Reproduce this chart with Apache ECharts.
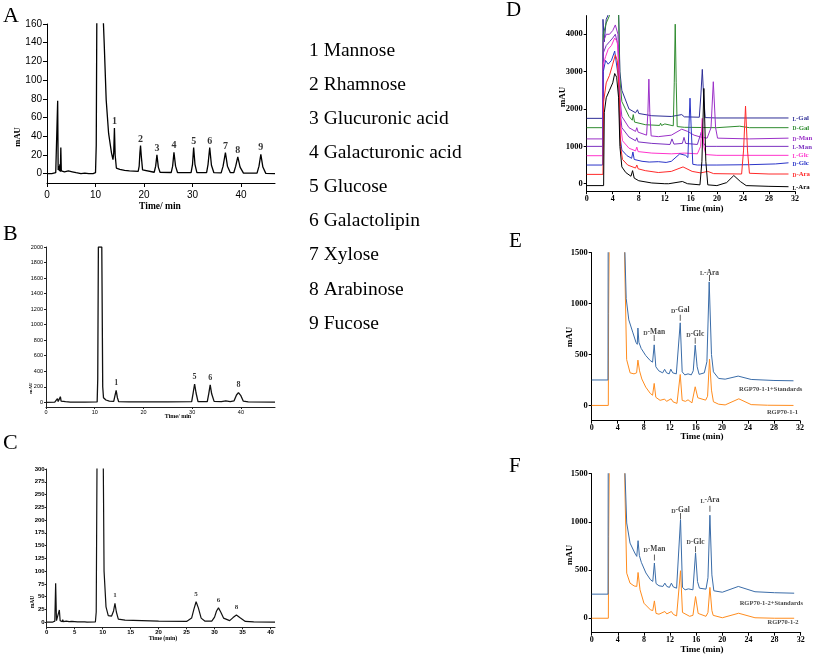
<!DOCTYPE html>
<html><head><meta charset="utf-8">
<script src="https://cdn.jsdelivr.net/npm/echarts@6/dist/echarts.min.js"></script>
<style>html,body{margin:0;padding:0;background:#fff}#c{width:813px;height:656px}</style>
</head><body><div id="c"></div><script>
// ---------- DATA ----------
const aXTicks = [0,10,20,30,40];
const aYTicks = [0,20,40,60,80,100,120,140,160];
const bXTicks = [0,10,20,30,40];
const bYTicks = [0,200,400,600,800,1000,1200,1400,1600,1800,2000];
const cXTicks = [0,5,10,15,20,25,30,35,40];
const cYTicks = [0,25,50,75,100,125,150,175,200,225,250,275,300];
const dXTicks = [0,4,8,12,16,20,24,28,32];
const dYTicks = [0,1000,2000,3000,4000];
const efXTicks = [0,4,8,12,16,20,24,28,32];
const efYTicks = [0,500,1000,1500];

const monoNames = ['1 Mannose','2 Rhamnose','3 Glucuronic acid','4 Galacturonic acid','5 Glucose','6 Galactolipin','7 Xylose','8 Arabinose','9 Fucose'];

const aTrace = [[0,0],[1.0,0],[1.8,1],[2.1,3],[2.2,78],[2.3,4],[2.45,8],[2.55,3],[2.65,10],[2.75,2],[2.85,28],[2.95,3],[3.2,1],[3.6,2],[4.0,1],[4.4,3],[4.8,1],[5.2,2],[5.6,3],[6.0,1],[7.0,0],[7.8,0.5],[8.2,2],[8.6,0],[9.5,0],[10.0,1],[10.15,30],[10.3,200],[11.5,220],[11.6,165],[11.8,138],[12.2,79],[12.7,43],[13.3,22],[13.6,15],[13.75,22],[13.9,48.7],[14.05,20],[14.3,6],[15,4.5],[16,3.5],[17,3],[18.8,2.5],[19.0,8],[19.15,22],[19.28,30],[19.45,18],[19.7,4],[20,2],[22.1,1.5],[22.4,8],[22.66,20],[22.95,7],[23.3,1.5],[25.6,1.2],[25.9,8],[26.17,22.7],[26.5,8],[26.9,1.2],[29.7,1],[30.0,10],[30.23,28],[30.5,10],[30.9,1],[32.9,1],[33.2,10],[33.54,28],[33.9,9],[34.4,1],[35.9,0.8],[36.3,8],[36.78,22.4],[37.2,8],[37.8,1],[38.5,1],[38.9,8],[39.33,18],[39.8,7],[40.5,0.5],[43.3,0.5],[43.7,8],[44.08,20.6],[44.5,7],[45.1,0.3],[47,0]];
const aLabels = [[13.9,48.7,'1'],[19.28,30,'2'],[22.66,20,'3'],[26.17,22.7,'4'],[30.23,28,'5'],[33.54,28,'6'],[36.78,22.4,'7'],[39.33,18,'8'],[44.08,20.6,'9']];

const bTrace = [[0,0],[1.8,2],[2.2,10],[2.35,47],[2.5,10],[2.75,20],[2.95,73],[3.1,15],[3.5,5],[4,8],[5,3],[8,2],[10.5,5],[10.62,300],[10.75,2000],[11.45,2000],[11.64,200],[11.8,60],[12.3,30],[13,15],[13.9,12],[14.1,70],[14.4,155],[14.65,60],[14.9,10],[17,6],[25,5],[29.9,8],[30.2,120],[30.5,236],[30.8,120],[31.2,10],[33.1,8],[33.4,110],[33.7,224],[34.0,110],[34.5,12],[36,10],[36.9,18],[37.8,10],[38.6,20],[39.1,95],[39.5,125],[39.95,90],[40.5,15],[41.5,5],[47,3]];
const bLabels = [[14.4,155,'1'],[30.5,236,'5'],[33.7,224,'6'],[39.5,125,'8']];

const cTrace = [[0,0],[1.0,0],[1.45,2],[1.6,76],[1.75,3],[2.1,3],[2.26,24],[2.4,3],[2.8,1],[2.86,5],[3.0,1],[3.5,2],[4,1],[4.5,1.5],[5.5,0.5],[6.8,0.5],[7.0,2],[7.2,0],[8.7,0.5],[8.85,20],[9.0,330],[10.1,330],[10.25,100],[10.6,30],[11.0,13],[11.6,12],[11.95,22],[12.2,37],[12.45,20],[12.8,6],[14,4],[17,3],[20,2],[25,1.5],[25.9,8],[26.3,25],[26.7,40],[27.1,28],[27.6,8],[28.3,2],[29.5,2],[30.0,10],[30.35,22],[30.7,28],[31.1,20],[31.6,8],[32.7,3],[33.3,9],[33.9,14],[34.5,9],[35.5,1.5],[37,0.5],[40.8,0]];
const cLabels = [[12.2,37,'1'],[26.7,40,'5'],[30.7,28,'6'],[33.9,14,'8']];

const dNames = ['L-Gal','D-Gal','D-Man','L-Man','L-Glc','D-Glc','D-Ara','L-Ara'];
const dLGal = [[0,1750],[2.45,1750],[2.5,4400],[2.7,3800],[3,4400],[3.5,4600],[4.5,4800],[4.9,4600],[5.1,3000],[5.4,2500],[6.5,2000],[7.5,1900],[7.8,1980],[8.0,1880],[10,1820],[13,1800],[14.6,1850],[15,1790],[17.3,1780],[17.55,2400],[17.76,3060],[17.95,2400],[18.2,1770],[20,1760],[31,1760]];
const dDGal = [[0,1500],[2.45,1500],[2.55,4000],[3,4300],[3.5,4500],[4.0,4800],[4.5,5000],[4.9,4600],[5.1,2800],[5.4,2200],[6.5,1800],[7.0,1700],[7.15,1850],[7.35,1650],[9,1580],[11.2,1560],[11.35,1620],[11.5,1560],[12,1600],[12.3,1560],[13.3,1550],[13.45,2700],[13.6,4270],[13.75,2700],[13.9,1530],[15,1510],[20,1500],[23.5,1540],[25,1500],[31,1500]];
const dDMan = [[0,1200],[2.45,1200],[2.55,3800],[3,4000],[3.5,4000],[4.0,4100],[4.4,4250],[4.8,4000],[5.1,2300],[5.4,1800],[6.5,1500],[7.5,1400],[7.7,1500],[7.9,1380],[9.2,1300],[9.4,1900],[9.55,2800],[9.7,1900],[9.9,1280],[11,1260],[13,1300],[14.6,1460],[15.5,1400],[16.5,1300],[17.5,1250],[18.5,1220],[19.1,1500],[19.45,2730],[19.8,1500],[20.1,1220],[25,1200],[31,1220]];
const dLMan = [[0,1000],[2.45,1000],[2.55,3500],[3.0,3700],[3.5,3800],[4.0,3900],[4.4,4000],[4.8,3700],[5.1,2000],[5.4,1500],[6.5,1250],[7.5,1150],[7.7,1230],[7.9,1120],[10,1080],[12.8,1050],[13.1,1200],[13.4,1060],[14.7,1080],[14.95,1240],[15.2,1080],[17.0,1050],[17.6,1380],[17.9,1100],[18.3,1000],[20,1000],[31,1000]];
const dLGlc = [[0,750],[2.45,750],[2.55,3200],[2.9,3400],[3.3,3600],[3.8,3700],[4.3,3900],[4.7,3800],[5.0,3000],[5.2,1600],[5.5,1150],[6.5,950],[7.5,880],[7.7,980],[7.9,860],[10,820],[13,800],[15,820],[17,800],[17.5,1000],[17.75,1750],[18.0,1000],[18.3,780],[20,760],[31,760]];
const dDGlc = [[0,500],[2.45,500],[2.55,3000],[2.9,3300],[3.3,3200],[3.8,3300],[4.3,3550],[4.6,3500],[4.9,2800],[5.1,1300],[5.4,900],[6.2,750],[6.9,680],[7.1,850],[7.3,650],[8.5,600],[9.6,580],[11,590],[12.2,570],[13,600],[14.3,800],[15.2,760],[15.55,700],[15.7,1500],[15.87,2290],[16.05,1500],[16.3,520],[17,500],[20,500],[25,510],[29,530],[31,560]];
const dDAra = [[0,250],[2.5,250],[2.6,2200],[3.0,2700],[3.5,2900],[4.0,3200],[4.4,3450],[4.7,3300],[5.0,2400],[5.2,1000],[5.5,650],[6.3,500],[7.5,420],[7.7,500],[7.9,400],[9,350],[11,300],[13,330],[14.8,450],[16.2,330],[17.5,290],[18.6,330],[19.5,270],[23.8,260],[24.1,900],[24.4,2080],[24.7,900],[25,280],[28,260],[31,260]];
const dLAra = [[0,-50],[2.6,-50],[2.7,1900],[3.0,2300],[3.5,2500],[4.0,2700],[4.3,2950],[4.6,2850],[4.9,2300],[5.1,1000],[5.4,450],[6,300],[6.8,200],[7.05,350],[7.3,150],[8,80],[10,20],[12,0],[12.3,30],[12.6,0],[14.7,60],[15.5,0],[17.4,-30],[17.7,600],[18.0,2550],[18.3,600],[18.6,-30],[20,-50],[21.5,30],[22.6,220],[23.6,60],[24.5,-50],[28,-70],[31,-80]];

const eStd = [[0,250],[2.5,250],[2.55,2500],[3,3000],[4.5,3000],[5.0,2000],[5.1,1500],[5.3,1050],[5.7,840],[6.3,720],[6.8,620],[7.0,600],[7.1,760],[7.25,620],[7.6,560],[8.3,490],[9.0,440],[9.35,425],[9.6,595],[9.85,380],[10.3,340],[10.9,320],[11.2,355],[11.5,320],[11.9,310],[12.15,356],[12.45,320],[13,310],[13.3,305],[13.6,811],[13.9,330],[14.3,300],[14.8,310],[15.3,300],[15.6,340],[15.9,592],[16.2,380],[16.5,305],[17.3,320],[17.7,430],[18.05,1213],[18.4,500],[18.7,330],[19.5,265],[20.5,258],[22.5,288],[24.5,255],[28,245],[31,242]];
const eSmp = [[0,0],[2.55,0],[2.6,900],[2.8,2500],[4.5,2500],[5.0,1800],[5.1,1300],[5.37,450],[5.9,320],[6.5,310],[6.9,320],[7.1,445],[7.35,340],[7.7,260],[8.3,180],[9.0,118],[9.35,100],[9.6,216],[9.85,80],[10.5,50],[11.2,62],[11.5,40],[12.2,65],[12.5,35],[13.1,20],[13.6,304],[13.9,50],[14.4,40],[14.8,55],[15.4,25],[15.9,183],[16.3,75],[16.5,62],[17.5,52],[17.8,90],[18.1,455],[18.4,150],[18.7,36],[19.5,12],[20.5,5],[22.6,65],[24.5,8],[27,2],[31,0]];
const fStd = [[0,250],[2.5,250],[2.55,2500],[3,3000],[4.5,3000],[5.0,2000],[5.1,1500],[5.36,989],[5.87,780],[6.6,677],[6.9,642],[7.1,805],[7.3,650],[7.6,580],[8.3,470],[9.0,400],[9.35,382],[9.6,573],[9.85,360],[10.3,337],[10.9,330],[11.2,364],[11.5,330],[11.9,320],[12.2,364],[12.5,325],[13,312],[13.3,320],[13.6,1024],[13.9,320],[14.3,295],[14.8,305],[15.5,295],[15.9,677],[16.2,380],[16.5,312],[17.5,302],[17.8,420],[18.1,1069],[18.4,450],[18.7,285],[20,270],[22.45,330],[25,275],[28,265],[31,260]];
const fSmp = [[0,0],[2.55,0],[2.6,850],[2.8,2500],[4.5,2500],[5.0,1800],[5.1,1300],[5.36,468],[5.87,364],[6.5,335],[6.9,330],[7.1,475],[7.4,295],[8.0,156],[9.0,87],[9.35,80],[9.6,180],[9.85,50],[10.3,42],[11.2,70],[11.5,45],[12.2,70],[12.5,40],[13,24],[13.3,30],[13.6,493],[13.9,60],[14.2,40],[15,20],[15.5,30],[15.9,225],[16.3,50],[17.5,20],[17.8,60],[18.1,320],[18.4,80],[18.6,30],[20,5],[22.5,52],[25,5],[28,0],[31,0]];

const tagNames = ['D-Man','D-Gal','D-Glc','L-Ara'];
const tagTimes = [9.6,13.6,15.9,18.1];
const eTagTextY = [723,936,700,1306];
const eTagTickY = [662,860,636,1251];
const fTagTextY = [719,1123,795,1224];
const fTagTickY = [630,1061,717,1135];
const eSampleNames = ['RGP70-1-1+Standards','RGP70-1-1'];
const fSampleNames = ['RGP70-1-2+Standards','RGP70-1-2'];
const sampleTimes = [27.5,29.3];
const eSampleY = [157,-63];
const fSampleY = [156,-46];

// ---------- STYLE ----------
const SERIF = '"Liberation Serif","Times New Roman",serif';
const SANS = '"Liberation Sans",Arial,sans-serif';

function axis(g, min, max, ticks, o) {
  return {
    type: 'value', gridIndex: g, min: min, max: max,
    axisLine: { show: true, onZero: false, lineStyle: { color: o.axisColor || '#000', width: o.lw || 1 } },
    axisTick: { show: true, length: o.tl || 3, customValues: ticks, lineStyle: { color: o.axisColor || '#000', width: o.lw || 1 } },
    axisLabel: { customValues: ticks, formatter: v => String(v), fontFamily: o.ff, fontSize: o.fs, fontWeight: o.fw || 'normal', color: '#000', margin: o.m },
    splitLine: { show: false }
  };
}

const grids = [
  { left: 47, top: 24, width: 228, height: 159 },
  { left: 46, top: 247, width: 229, height: 160 },
  { left: 46.7, top: 469, width: 228.3, height: 158.3 },
  { left: 586.7, top: 15.6, width: 208.3, height: 175.6 },
  { left: 591.7, top: 252.7, width: 208.3, height: 168 },
  { left: 591.7, top: 473.7, width: 209, height: 159 }
];

const xAxes = [
  axis(0, 0, 47, aXTicks, { ff: SANS, fs: 10, m: 7, tl: 4 }),
  axis(1, 0, 47, bXTicks, { ff: SANS, fs: 5.5, m: 2, tl: 2, axisColor: '#222' }),
  axis(2, 0, 40.8, cXTicks, { ff: SANS, fs: 6, fw: 'bold', m: 2, tl: 2, axisColor: '#222' }),
  axis(3, 0, 32, dXTicks, { ff: SERIF, fs: 8, fw: 'bold', m: 4, tl: 3 }),
  axis(4, 0, 32, efXTicks, { ff: SERIF, fs: 8, fw: 'bold', m: 3, tl: 3 }),
  axis(5, 0, 32, efXTicks, { ff: SERIF, fs: 8, fw: 'bold', m: 3, tl: 3 })
];
const yAxes = [
  axis(0, -10, 160, aYTicks, { ff: SANS, fs: 10, m: 5, tl: 4 }),
  axis(1, -60, 2000, bYTicks, { ff: SANS, fs: 5.5, m: 3, tl: 2, axisColor: '#222' }),
  axis(2, -10, 300, cYTicks, { ff: SANS, fs: 6, fw: 'bold', m: 2, tl: 2, axisColor: '#222' }),
  axis(3, -200, 4500, dYTicks, { ff: SERIF, fs: 8.5, fw: 'bold', m: 4, tl: 3 }),
  axis(4, -150, 1500, efYTicks, { ff: SERIF, fs: 8.5, fw: 'bold', m: 4, tl: 3 }),
  axis(5, -150, 1500, efYTicks, { ff: SERIF, fs: 8.5, fw: 'bold', m: 4, tl: 3 })
];

function trace(g, data, color, w) {
  return { type: 'line', xAxisIndex: g, yAxisIndex: g, data: data, symbol: 'none', showSymbol: false,
    lineStyle: { color: color, width: w }, clip: true, silent: true, z: 2 };
}
function peakLabels(g, data, fs, dist) {
  return { type: 'scatter', xAxisIndex: g, yAxisIndex: g, data: data, symbolSize: 1,
    itemStyle: { color: 'rgba(0,0,0,0)' }, clip: false, silent: true,
    label: { show: true, position: 'top', distance: dist, formatter: p => p.value[2],
      fontFamily: SERIF, fontWeight: 'bold', fontSize: fs, color: '#000' } };
}
function sc(name, color, big, small) {
  return { fmt: '{s|' + name[0] + '}{t|' + name.slice(1) + '}',
    rich: { s: { fontFamily: SERIF, fontWeight: 'bold', fontSize: small, color: color, verticalAlign: 'bottom', lineHeight: big + 1 },
            t: { fontFamily: SERIF, fontWeight: 'bold', fontSize: big, color: color, verticalAlign: 'bottom', lineHeight: big + 1 } } };
}

const dColors = ['#2E2E96','#2E8B2E','#9B30C8','#7B30C0','#FF33CC','#2B35C8','#FF2A2A','#000000'];
const dData = [dLGal, dDGal, dDMan, dLMan, dLGlc, dDGlc, dDAra, dLAra];

const series = [];
series.push(trace(0, aTrace, '#000', 1.3));
series.push(peakLabels(0, aLabels, 10, 1));
series.push(trace(1, bTrace, '#111', 1.3));
series.push(peakLabels(1, bLabels, 8, 3));
series.push(trace(2, cTrace, '#111', 1.2));
series.push(peakLabels(2, cLabels, 7, 4));

dData.forEach((d, i) => {
  const s = trace(3, d, dColors[i], 1);
  const r = sc(dNames[i], dColors[i], 6.8, 5.4);
  s.endLabel = { show: true, distance: 4, formatter: r.fmt, rich: r.rich };
  series.push(s);
});

function tagSeries(g, textY, tickY) {
  const txt = tagNames.map((n, i) => [tagTimes[i], textY[i], n]);
  const tk = tagNames.map((n, i) => [tagTimes[i], tickY[i]]);
  const r = sc('X', '#111', 7.5, 6);
  return [
    { type: 'scatter', xAxisIndex: g, yAxisIndex: g, data: txt, symbolSize: 1, itemStyle: { color: 'rgba(0,0,0,0)' }, silent: true, clip: false,
      label: { show: true, position: 'inside', formatter: p => '{s|' + p.value[2][0] + '}{t|' + p.value[2].slice(1) + '}', rich: r.rich } },
    { type: 'scatter', xAxisIndex: g, yAxisIndex: g, data: tk, symbol: 'rect', symbolSize: [0.9, 6], itemStyle: { color: '#222' }, silent: true }
  ];
}
function sampleSeries(g, names, ys) {
  return { type: 'scatter', xAxisIndex: g, yAxisIndex: g, data: names.map((n, i) => [sampleTimes[i], ys[i], n]), symbolSize: 1,
    itemStyle: { color: 'rgba(0,0,0,0)' }, silent: true, clip: false,
    label: { show: true, position: 'inside', formatter: p => p.value[2], fontFamily: SERIF, fontWeight: 'bold', fontSize: 6.5, color: '#111' } };
}

series.push(trace(4, eSmp, '#FF8C1E', 1));
series.push(trace(4, eStd, '#3A6CA8', 1));
tagSeries(4, eTagTextY, eTagTickY).forEach(s => series.push(s));
series.push(sampleSeries(4, eSampleNames, eSampleY));

series.push(trace(5, fSmp, '#FF8C1E', 1));
series.push(trace(5, fStd, '#3A6CA8', 1));
tagSeries(5, fTagTextY, fTagTickY).forEach(s => series.push(s));
series.push(sampleSeries(5, fSampleNames, fSampleY));

// ---------- TEXTS ----------
function txt(x, y, text, font, rot, align) {
  return { type: 'text', x: x, y: y, rotation: rot || 0, silent: true,
    style: { text: text, font: font, fill: '#000', textAlign: align || 'center', textVerticalAlign: 'middle' } };
}
const graphics = [
  txt(3, 16, 'A', '22px ' + SERIF, 0, 'left'),
  txt(3, 234, 'B', '22px ' + SERIF, 0, 'left'),
  txt(3, 443, 'C', '22px ' + SERIF, 0, 'left'),
  txt(506, 10, 'D', '21px ' + SERIF, 0, 'left'),
  txt(509, 241, 'E', '21px ' + SERIF, 0, 'left'),
  txt(509, 466, 'F', '21px ' + SERIF, 0, 'left'),
  txt(18, 137, 'mAU', 'bold 8.5px ' + SERIF, Math.PI / 2),
  txt(160, 207, 'Time/ min', 'bold 9.5px ' + SERIF),
  txt(31, 388, 'mAU', 'bold 5px ' + SERIF, Math.PI / 2),
  txt(178, 416.5, 'Time/ min', 'bold 6px ' + SERIF),
  txt(33, 602, 'mAU', 'bold 5.5px ' + SERIF, Math.PI / 2),
  txt(163, 638, 'Time (min)', 'bold 6px ' + SERIF),
  txt(563, 97, 'mAU', 'bold 9px ' + SERIF, Math.PI / 2),
  txt(702, 209, 'Time (min)', 'bold 9px ' + SERIF),
  txt(570, 337, 'mAU', 'bold 9px ' + SERIF, Math.PI / 2),
  txt(702, 437, 'Time (min)', 'bold 9px ' + SERIF),
  txt(570, 555, 'mAU', 'bold 9px ' + SERIF, Math.PI / 2),
  txt(702, 650, 'Time (min)', 'bold 9px ' + SERIF)
];
monoNames.forEach((n, i) => graphics.push(txt(309, 50.7 + i * 34.1, n, '19.5px ' + SERIF, 0, 'left')));

const chart = echarts.init(document.getElementById('c'), null, { renderer: 'canvas' });
chart.setOption({
  animation: false,
  backgroundColor: '#fff',
  grid: grids,
  xAxis: xAxes,
  yAxis: yAxes,
  series: series,
  graphic: graphics
});
</script></body></html>
